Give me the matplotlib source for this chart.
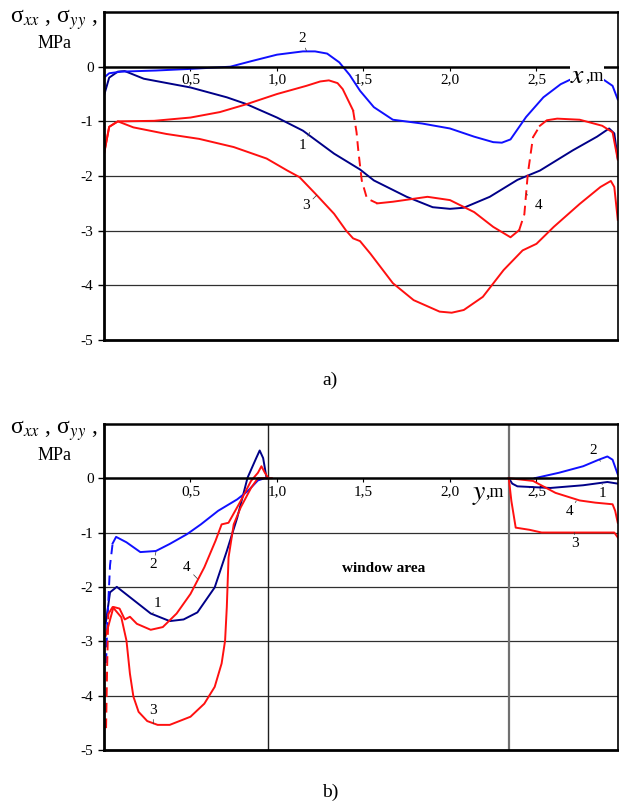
import numpy as np
import matplotlib
matplotlib.use('Agg')
from matplotlib import pyplot as plt

plt.rcParams['font.family'] = ['Liberation Serif', 'DejaVu Serif']
plt.rcParams['mathtext.fontset'] = 'stix'
plt.rcParams['axes.unicode_minus'] = False
plt.rcParams['lines.solid_joinstyle'] = 'round'
plt.rcParams['lines.dash_joinstyle'] = 'round'

# ---- a) stresses along x ----
xa1 = [0.0, 0.03, 0.08, 0.12, 0.23, 0.5, 0.71, 0.82, 1.0, 1.15, 1.33, 1.48, 1.56, 1.75, 1.9,
       2.0, 2.08, 2.23, 2.39, 2.52, 2.71, 2.85, 2.92, 2.95, 2.97]
ya1 = [-0.53, -0.2, -0.09, -0.08, -0.22, -0.38, -0.56, -0.68, -0.93, -1.17, -1.59, -1.88, -2.08,
       -2.38, -2.57, -2.6, -2.58, -2.38, -2.07, -1.90, -1.53, -1.28, -1.13, -1.22, -1.68]

xa2 = [0.0, 0.03, 0.1, 0.3, 0.5, 0.73, 0.85, 1.0, 1.15, 1.22, 1.29, 1.36, 1.42, 1.48, 1.56, 1.67,
       1.84, 2.0, 2.14, 2.25, 2.30, 2.35, 2.44, 2.54, 2.64, 2.72, 2.8, 2.88, 2.94, 2.97]
ya2 = [-0.2, -0.12, -0.09, -0.07, -0.04, 0.0, 0.1, 0.22, 0.28, 0.28, 0.24, 0.08, -0.15, -0.44,
       -0.74, -0.97, -1.04, -1.13, -1.28, -1.38, -1.39, -1.33, -0.92, -0.56, -0.32, -0.2, -0.14,
       -0.22, -0.35, -0.6]

xa3 = [0.0, 0.03, 0.08, 0.17, 0.36, 0.55, 0.75, 0.94, 1.06, 1.13, 1.23, 1.33, 1.40, 1.44, 1.48,
       1.54, 1.67, 1.79, 1.94, 2.01, 2.08, 2.19, 2.31, 2.42, 2.46, 2.50, 2.60, 2.75, 2.87, 2.93,
       2.95, 2.97]
ya3 = [-1.6, -1.1, -1.0, -1.11, -1.23, -1.32, -1.47, -1.68, -1.9, -2.02, -2.35, -2.69, -3.0, -3.14,
       -3.19, -3.42, -3.96, -4.27, -4.48, -4.5, -4.45, -4.21, -3.72, -3.36, -3.3, -3.24, -2.93,
       -2.51, -2.2, -2.09, -2.2, -2.8]

xa4 = [0.0, 0.03, 0.08, 0.29, 0.5, 0.67, 0.82, 1.0, 1.17, 1.25, 1.30, 1.35, 1.38, 1.44, 1.46,
       1.47, 1.49, 1.52, 1.58, 1.67, 1.87, 2.0, 2.14, 2.25, 2.35, 2.40, 2.43, 2.45, 2.48, 2.52,
       2.56, 2.62, 2.75, 2.88, 2.94, 2.97]
ya4 = [-1.6, -1.1, -1.0, -0.99, -0.93, -0.83, -0.69, -0.5, -0.35, -0.27, -0.25, -0.3, -0.41,
       -0.8, -1.2, -1.53, -2.08, -2.41, -2.5, -2.47, -2.38, -2.44, -2.66, -2.93, -3.12, -2.99,
       -2.7, -1.96, -1.29, -1.08, -0.98, -0.95, -0.97, -1.08, -1.2, -1.7]

# ---- b) stresses along y (window between the two wall parts) ----
xb1 = [0.01, 0.035, 0.074, 0.17, 0.27, 0.38, 0.46, 0.54, 0.64, 0.71, 0.77, 0.83, 0.88, 0.90, 0.92, 0.94]
yb1 = [-2.67, -2.1, -2.0, -2.24, -2.49, -2.63, -2.6, -2.47, -2.01, -1.34, -0.73, 0.01, 0.37, 0.51, 0.37, 0.0]
xb1r = [2.34, 2.36, 2.39, 2.58, 2.77, 2.91, 2.97]
yb1r = [0.0, -0.1, -0.15, -0.18, -0.13, -0.07, -0.1]

xb2 = [0.012, 0.02, 0.035, 0.05, 0.07, 0.13, 0.21, 0.3, 0.38, 0.48, 0.56, 0.66, 0.77, 0.83, 0.89, 0.93, 0.95]
yb2 = [-3.4, -2.6, -1.6, -1.2, -1.08, -1.18, -1.36, -1.34, -1.21, -1.03, -0.85, -0.6, -0.39, -0.24,
       -0.04, 0.0, 0.0]
xb2r = [2.49, 2.63, 2.77, 2.86, 2.91, 2.94, 2.97]
yb2r = [0.0, 0.1, 0.22, 0.34, 0.4, 0.34, 0.07]

xb3 = [0.012, 0.018, 0.025, 0.05, 0.1, 0.13, 0.15, 0.17, 0.20, 0.25, 0.31, 0.38, 0.5, 0.58, 0.64,
       0.68, 0.70, 0.71, 0.72, 0.75, 0.79, 0.85, 0.89, 0.97]
yb3 = [-4.6, -3.5, -2.5, -2.37, -2.56, -2.99, -3.6, -4.02, -4.3, -4.47, -4.54, -4.54, -4.39, -4.15,
       -3.84, -3.41, -2.99, -2.37, -1.46, -0.85, -0.54, -0.18, 0.0, 0.0]
xb3r = [2.34, 2.355, 2.38, 2.46, 2.53, 2.69, 2.88, 2.95, 2.97]
yb3r = [0.0, -0.42, -0.91, -0.95, -1.0, -1.0, -1.0, -1.0, -1.09]

xb4 = [0.01, 0.055, 0.09, 0.12, 0.15, 0.19, 0.27, 0.34, 0.42, 0.5, 0.58, 0.645, 0.68, 0.72, 0.79,
       0.85, 0.89, 0.91, 0.93, 0.95]
yb4 = [-2.9, -2.37, -2.4, -2.6, -2.55, -2.68, -2.79, -2.74, -2.49, -2.13, -1.64, -1.15, -0.85, -0.82,
       -0.42, -0.05, 0.1, 0.22, 0.1, 0.0]
xb4r = [2.34, 2.48, 2.61, 2.75, 2.84, 2.94, 2.955, 2.97]
yb4r = [0.0, -0.05, -0.27, -0.41, -0.45, -0.48, -0.6, -0.82]

xticks = [0.5, 1.0, 1.5, 2.0, 2.5]
xtick_labels = ['0,5', '1,0', '1,5', '2,0', '2,5']
yticks = [0, -1, -2, -3, -4, -5]

navy = '#000088'
blue = '#1010ff'
red = '#ff1010'
lw = 1.4


def setup(ax):
    ax.set_xlim(0, 2.97)
    ax.set_ylim(-5, 1)
    ax.spines['bottom'].set_position(('data', 0))
    ax.spines['bottom'].set_linewidth(1.8)
    ax.spines['left'].set_linewidth(2.0)
    ax.spines['top'].set_linewidth(1.8)
    ax.spines['right'].set_linewidth(1.2)
    ax.set_xticks(xticks)
    ax.set_xticklabels(xtick_labels, fontsize=11)
    ax.tick_params(axis='x', direction='out', length=3, pad=2, width=0.8)
    ax.set_yticks(yticks)
    ax.set_yticklabels([str(v) for v in yticks], fontsize=11)
    ax.tick_params(axis='y', direction='out', length=4, width=1.0)
    for v in [-1, -2, -3, -4]:
        ax.axhline(v, color='#303030', lw=0.9, zorder=0)
    ax.axhline(-5, color='black', lw=2.0, clip_on=False, zorder=3)


def label(ax, txt, xy, xytext):
    ax.annotate(txt, xy=xy, xytext=xytext, fontsize=11, ha='center', va='center',
                arrowprops=dict(arrowstyle='-', lw=0.5, color='#333333', shrinkA=4, shrinkB=0))


fig = plt.figure(figsize=(6.19, 8.02), dpi=100)

# panel a
axa = fig.add_axes([0.168, 0.576, 0.830, 0.409])
setup(axa)
axa.plot(xa1, ya1, color=navy, lw=lw)
axa.plot(xa2, ya2, color=blue, lw=lw)
axa.plot(xa3, ya3, color=red, lw=lw)
# curve 4 jumps drawn dashed
axa.plot(xa4[:14], ya4[:14], color=red, lw=lw)
axa.plot(xa4[13:19], ya4[13:19], color=red, lw=lw, ls=(0, (5, 3)))
axa.plot(xa4[18:26], ya4[18:26], color=red, lw=lw)
axa.plot(xa4[25:30], ya4[25:30], color=red, lw=lw, ls=(0, (5, 3)))
axa.plot(xa4[29:], ya4[29:], color=red, lw=lw)

label(axa, '2', (1.17, 0.29), (1.145, 0.51))
label(axa, '1', (1.19, -1.2), (1.15, -1.44))
label(axa, '3', (1.23, -2.35), (1.17, -2.54))
label(axa, '4', (2.44, -2.32), (2.51, -2.54))

axa.text(2.74, -0.18, '$x$', fontsize=20, ha='center', va='center',
         bbox=dict(facecolor='white', edgecolor='none', pad=0.5))
axa.text(2.78, -0.16, ',m', fontsize=13, ha='left', va='center',
         bbox=dict(facecolor='white', edgecolor='none', pad=0.5))

fig.text(0.016, 0.976, 'σ$_{xx}$ , σ$_{yy}$ ,', fontsize=17, ha='left', va='center')
fig.text(0.088, 0.946, 'MPa', fontsize=13, ha='center', va='center')
fig.text(0.533, 0.526, 'a)', fontsize=14, ha='center', va='center')

# panel b
axb = fig.add_axes([0.168, 0.065, 0.830, 0.4065])
setup(axb)
axb.axvline(0.95, color='#202020', lw=1.0, zorder=0)
axb.axvline(2.34, color='#707070', lw=1.6, zorder=0)

axb.plot(xb1, yb1, color=navy, lw=lw)
axb.plot(xb1r, yb1r, color=navy, lw=lw)
axb.plot(xb2[:4], yb2[:4], color=blue, lw=lw, ls=(0, (5, 3)))
axb.plot(xb2[3:], yb2[3:], color=blue, lw=lw)
axb.plot(xb2r, yb2r, color=blue, lw=lw)
axb.plot(xb3[:3], yb3[:3], color=red, lw=lw, ls=(0, (5, 3)))
axb.plot(xb3[2:], yb3[2:], color=red, lw=lw)
axb.plot(xb3r, yb3r, color=red, lw=lw)
axb.plot(xb4, yb4, color=red, lw=lw)
axb.plot(xb4r, yb4r, color=red, lw=lw)

label(axb, '2', (0.30, -1.36), (0.285, -1.59))
label(axb, '1', (0.28, -2.5), (0.31, -2.3))
label(axb, '4', (0.54, -1.85), (0.48, -1.65))
label(axb, '3', (0.285, -4.52), (0.285, -4.27))
label(axb, '2', (2.87, 0.31), (2.83, 0.51))
label(axb, '1', (2.88, -0.11), (2.88, -0.29))
label(axb, '4', (2.73, -0.42), (2.69, -0.62))
label(axb, '3', (2.72, -1.0), (2.72, -1.21))

axb.text(2.17, -0.3, '$y$', fontsize=20, ha='center', va='center')
axb.text(2.205, -0.24, ',m', fontsize=13, ha='left', va='center')
axb.text(1.615, -1.67, 'window area', fontsize=11, fontweight='bold', ha='center', va='center')

fig.text(0.016, 0.463, 'σ$_{xx}$ , σ$_{yy}$ ,', fontsize=17, ha='left', va='center')
fig.text(0.088, 0.432, 'MPa', fontsize=13, ha='center', va='center')
fig.text(0.533, 0.012, 'b)', fontsize=14, ha='center', va='center')

fig.savefig('out.png', dpi=100)
